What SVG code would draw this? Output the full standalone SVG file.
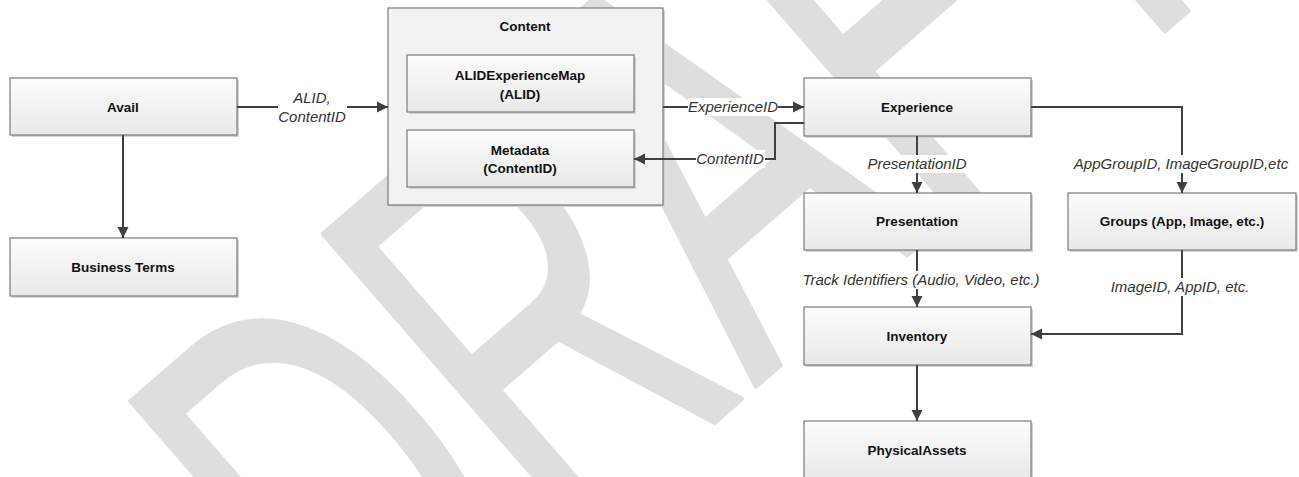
<svg xmlns="http://www.w3.org/2000/svg" width="1299" height="477" viewBox="0 0 1299 477">
<defs>
<linearGradient id="g" x1="0" y1="0" x2="0" y2="1">
<stop offset="0" stop-color="#fcfcfc"/>
<stop offset="1" stop-color="#e9e9e9"/>
</linearGradient>
<marker id="arr" markerUnits="userSpaceOnUse" markerWidth="12" markerHeight="12" refX="11" refY="6" orient="auto">
<path d="M0,0.5 L11,6 L0,11.5 Z" fill="#404040"/>
</marker>
<style>
.box{fill:url(#g);stroke:#7a7a7a;stroke-width:1.2}
.sh{fill:#d4d4d4}
.cont{fill:#f2f2f2;stroke:#7a7a7a;stroke-width:1.2}
.t{font-family:"Liberation Sans",Arial,sans-serif;font-weight:bold;font-size:13.5px;fill:#111;text-anchor:middle}
.l{font-family:"Liberation Sans",Arial,sans-serif;font-style:italic;font-size:15px;fill:#333;text-anchor:middle}
.c{fill:none;stroke:#404040;stroke-width:2}
.bg{fill:#fff}
.wm{font-family:"Liberation Sans",Arial,sans-serif;font-size:100px;fill:#dedede;stroke:#dedede;stroke-width:0.8;stroke-linejoin:round}
</style>
</defs>
<rect width="1299" height="477" fill="#fff"/>
<g id="watermark">
<text class="wm" transform="translate(370,722) rotate(-41) scale(3.53,5.8)">DRAFT</text>
</g>
<g id="content"><rect class="sh" x="390" y="10" width="275" height="197"/><rect class="cont" x="388" y="8" width="275" height="197"/><text class="t" x="525" y="31">Content</text></g>
<g id="avail"><rect class="sh" x="12" y="80" width="227" height="57"/><rect class="box" x="10" y="78" width="227" height="57"/><text class="t" x="123" y="112">Avail</text></g>
<g id="business-terms"><rect class="sh" x="12" y="240" width="227" height="58"/><rect class="box" x="10" y="238" width="227" height="58"/><text class="t" x="123" y="272">Business Terms</text></g>
<g id="alid-experience-map"><rect class="sh" x="409" y="57" width="227" height="57"/><rect class="box" x="407" y="55" width="227" height="57"/><text class="t" x="520" y="80">ALIDExperienceMap</text><text class="t" x="520" y="99">(ALID)</text></g>
<g id="metadata"><rect class="sh" x="409" y="132" width="227" height="57"/><rect class="box" x="407" y="130" width="227" height="57"/><text class="t" x="520" y="155">Metadata</text><text class="t" x="520" y="173">(ContentID)</text></g>
<g id="experience"><rect class="sh" x="806" y="80" width="227" height="58"/><rect class="box" x="804" y="78" width="227" height="58"/><text class="t" x="917" y="112">Experience</text></g>
<g id="presentation"><rect class="sh" x="806" y="195" width="227" height="57"/><rect class="box" x="804" y="193" width="227" height="57"/><text class="t" x="917" y="226">Presentation</text></g>
<g id="groups"><rect class="sh" x="1070" y="195" width="228" height="57"/><rect class="box" x="1068" y="193" width="228" height="57"/><text class="t" x="1182" y="226">Groups (App, Image, etc.)</text></g>
<g id="inventory"><rect class="sh" x="806" y="309" width="227" height="58"/><rect class="box" x="804" y="307" width="227" height="58"/><text class="t" x="917" y="341">Inventory</text></g>
<g id="physical-assets"><rect class="sh" x="806" y="423" width="227" height="58"/><rect class="box" x="804" y="421" width="227" height="58"/><text class="t" x="917" y="455">PhysicalAssets</text></g>
<g id="connectors">
<path class="c" d="M123,135 V238" marker-end="url(#arr)"/>
<path class="c" d="M237,107 H388" marker-end="url(#arr)"/>
<path class="c" d="M663,107 H804" marker-end="url(#arr)"/>
<path class="c" d="M804,123 H775 V159 H634" marker-end="url(#arr)"/>
<path class="c" d="M917,136 V193" marker-end="url(#arr)"/>
<path class="c" d="M1031,107 H1182 V193" marker-end="url(#arr)"/>
<path class="c" d="M917,250 V307" marker-end="url(#arr)"/>
<path class="c" d="M1182,250 V334 H1031" marker-end="url(#arr)"/>
<path class="c" d="M917,365 V421" marker-end="url(#arr)"/>
<rect class="bg" x="278" y="88" width="69" height="38"/>
<text class="l" x="312" y="103">ALID,</text>
<text class="l" x="312" y="122">ContentID</text>
<rect class="bg" x="688" y="98" width="90" height="18"/>
<text class="l" x="733" y="112">ExperienceID</text>
<rect class="bg" x="696" y="150" width="69" height="18"/>
<text class="l" x="730" y="164">ContentID</text>
<rect class="bg" x="866" y="155" width="102" height="18"/>
<text class="l" x="917" y="169">PresentationID</text>
<rect class="bg" x="1072" y="155" width="219" height="18"/>
<text class="l" x="1181" y="169">AppGroupID, ImageGroupID,etc</text>
<rect class="bg" x="804" y="271" width="234" height="18"/>
<text class="l" x="921" y="285">Track Identifiers (Audio, Video, etc.)</text>
<rect class="bg" x="1109" y="278" width="142" height="18"/>
<text class="l" x="1180" y="292">ImageID, AppID, etc.</text>
</g>
</svg>
